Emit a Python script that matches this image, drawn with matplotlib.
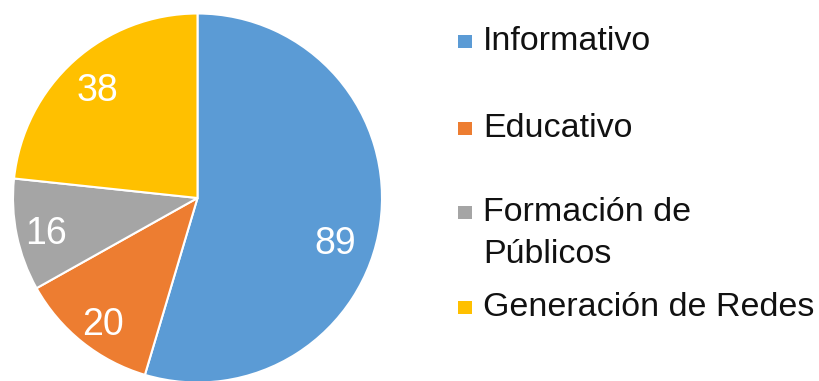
import numpy as np
import matplotlib
matplotlib.use("Agg")
import matplotlib.pyplot as plt
from matplotlib.patches import Rectangle

plt.rcParams['font.family'] = ['Liberation Sans', 'DejaVu Sans']

categories = ["Informativo", "Educativo", "Formación de\nPúblicos", "Generación de Redes"]
values = [89, 20, 16, 38]
colors = ["#5B9BD5", "#ED7D31", "#A5A5A5", "#FFC000"]

W, H = 819, 381
fig = plt.figure(figsize=(W / 100, H / 100), dpi=100)
ax = fig.add_axes([0, 0, 1, 1])

cx, cy, r = 197.5, H - 198, 184.5
wedges, _ = ax.pie(values, colors=colors, startangle=90, counterclock=False,
                   center=(cx, cy), radius=r,
                   wedgeprops=dict(edgecolor="white", linewidth=1.5))
ax.set_xlim(0, W)
ax.set_ylim(0, H)
ax.axis("off")

# value labels inside the slices
label_dist = [0.78, 0.84, 0.84, 0.81]
label_turn = [-8.5, 1, 0.5, 0]
for w, v, d, t in zip(wedges, values, label_dist, label_turn):
    ang = np.deg2rad((w.theta1 + w.theta2) / 2 + t)
    ax.text(cx + d * r * np.cos(ang), cy + d * r * np.sin(ang), str(v),
            color="white", fontsize=27, ha="center", va="center_baseline")

# legend drawn by hand: square marker + label
baselines = [50, 137, 221, 316]
for lab, col, yb in zip(categories, colors, baselines):
    ax.add_patch(Rectangle((458, H - yb + 2), 14, 13, color=col, lw=0))
    ax.text(483, H - yb, lab.split("\n")[0], fontsize=24.5, color="#111111",
            ha="left", va="baseline")
    if "\n" in lab:
        ax.text(483, H - yb - 42, lab.split("\n")[1], fontsize=24.5,
                color="#111111", ha="left", va="baseline")

fig.savefig("out.png", dpi=100, facecolor="white")
